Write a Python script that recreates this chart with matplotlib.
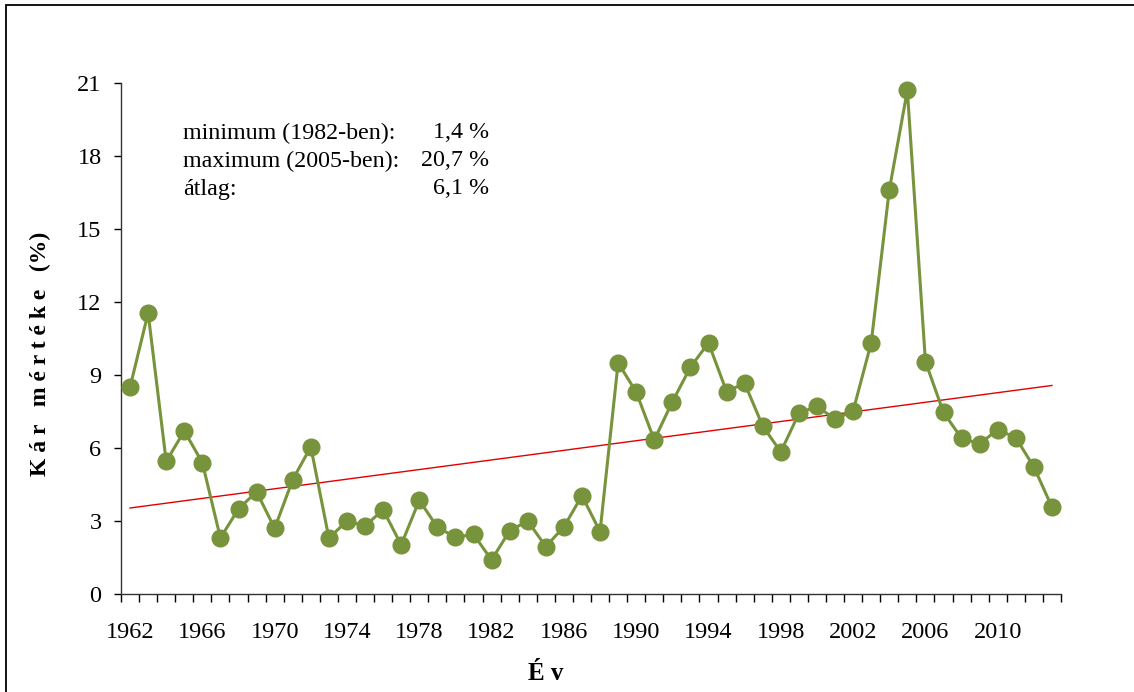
import numpy as np
from matplotlib import pyplot as plt
from matplotlib import rcParams
from matplotlib.patches import Rectangle

rcParams['font.family'] = ['Liberation Serif', 'DejaVu Serif']

years = np.arange(1962, 2014)
damage = [8.5, 11.55, 5.45, 6.7, 5.4, 2.3, 3.5, 4.2, 2.7, 4.7,
          6.05, 2.3, 3.0, 2.8, 3.46, 2.02, 3.85, 2.75, 2.33, 2.45,
          1.4, 2.6, 3.0, 1.95, 2.76, 4.04, 2.56, 9.5, 8.3, 6.33,
          7.9, 9.32, 10.32, 8.32, 8.66, 6.9, 5.84, 7.42, 7.72, 7.18,
          7.52, 10.32, 16.6, 20.7, 9.55, 7.46, 6.4, 6.17, 6.76, 6.42,
          5.22, 3.57]
label_years = years[::4]
info_labels = ['minimum (1982-ben):', 'maximum (2005-ben):', 'átlag:']
info_values = ['1,4 %', '20,7 %', '6,1 %']

green = '#77933C'

fig = plt.figure(figsize=(11.34, 6.92), dpi=100)
ax = fig.add_axes([121 / 1134, 1 - 594 / 692, 940 / 1134, 511 / 692])

ax.plot(years, damage, color=green, lw=2.2, marker='o', ms=12,
        markeredgecolor=green, zorder=3, clip_on=False)

# linear trend line
coef = np.polyfit(years, damage, 1)
ax.plot(years, np.polyval(coef, years), color='#E00000', lw=1.0, zorder=2)

ax.set_xlim(1961.5, 2013.5)
ax.set_ylim(0, 21)
ax.set_yticks(np.arange(0, 22, 3))
ax.set_xticks(label_years)
ax.set_xticks(np.arange(1961.5, 2014, 1), minor=True)
ax.tick_params(axis='x', which='major', length=0, pad=20, labelsize=17.5)
ax.tick_params(axis='x', which='minor', length=6, width=1, direction='out')
ax.tick_params(axis='y', length=5, width=1, direction='out', pad=9, labelsize=17.5)
for s in ['top', 'right']:
    ax.spines[s].set_visible(False)
for s in ['left', 'bottom']:
    ax.spines[s].set_linewidth(1.0)
    ax.spines[s].set_color('#333333')

fig.text(40 / 1134, 1 - 354 / 692, 'K á r   m é r t é k e   (%)', rotation=90,
         ha='center', va='center', fontsize=17, fontweight='bold')
fig.text(546 / 1134, 1 - 673 / 692, 'É v', ha='center', va='center',
         fontsize=18, fontweight='bold')

for i, (lab, val) in enumerate(zip(info_labels, info_values)):
    y = 1 - (133 + i * 28) / 692
    fig.text(183 / 1134, y, lab, ha='left', va='center', fontsize=17.3)
    fig.text(489 / 1134, y, val, ha='right', va='center', fontsize=17.3)

# outer frame
fig.add_artist(Rectangle((6 / 1134, -0.1), 1.2, 1.1 - 5 / 692, transform=fig.transFigure,
                         fill=False, edgecolor='black', lw=1.3))

fig.savefig('out.png', dpi=100)
